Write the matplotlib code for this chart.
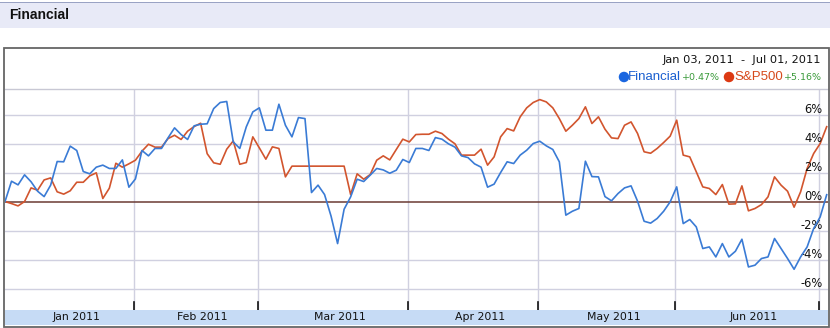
import matplotlib
matplotlib.use('Agg')
import matplotlib.pyplot as plt
from matplotlib.patches import Rectangle, Ellipse
import numpy as np

# % change since Jan 03, 2011, one value per trading day
financial = [0.00, 1.40, 1.15, 1.84, 1.36, 0.71, 0.34, 1.13, 2.76, 2.74,
             3.82, 3.52, 2.07, 1.91, 2.37, 2.51, 2.28, 2.28, 2.87, 0.99,
             1.56, 3.52, 3.15, 3.66, 3.66, 4.39, 5.08, 4.62, 4.28, 5.22,
             5.33, 5.36, 6.41, 6.83, 6.90, 4.11, 3.66, 5.15, 6.18, 6.46,
             4.92, 4.92, 6.71, 5.26, 4.46, 5.79, 5.72, 0.62, 1.13, 0.48,
             -1.01, -2.90, -0.53, 0.32, 1.54, 1.38, 1.82, 2.28, 2.18, 1.95,
             2.16, 2.90, 2.69, 3.66, 3.66, 3.52, 4.41, 4.30, 3.98, 3.75,
             3.15, 3.03, 2.60, 2.37, 0.99, 1.20, 2.00, 2.74, 2.62, 3.20,
             3.54, 4.00, 4.16, 3.84, 3.59, 2.74, -0.94, -0.67, -0.48, 2.78,
             1.72, 1.70, 0.34, 0.05, 0.55, 0.94, 1.08, 0.02, -1.36, -1.49,
             -1.17, -0.67, -0.02, 1.01, -1.52, -1.24, -1.75, -3.24, -3.13, -3.82,
             -2.90, -3.82, -3.43, -2.60, -4.51, -4.39, -3.93, -3.82, -2.55, -3.24,
             -3.93, -4.67, -3.82, -3.13, -1.86, -1.06, 0.47]

sp500 = [0.00, -0.14, -0.30, 0.00, 0.94, 0.78, 1.49, 1.63, 0.67, 0.51,
         0.74, 1.33, 1.33, 1.77, 1.98, 0.21, 0.92, 2.64, 2.37, 2.60,
         2.85, 3.47, 3.95, 3.75, 3.75, 4.34, 4.57, 4.28, 4.85, 5.17,
         5.40, 3.30, 2.67, 2.57, 3.61, 4.18, 2.57, 2.69, 4.46, 3.70,
         2.92, 3.77, 3.66, 1.70, 2.44, 2.44, 2.44, 2.44, 2.44, 2.44,
         2.44, 2.44, 2.44, 0.48, 1.91, 1.54, 1.86, 2.85, 3.15, 2.87,
         3.59, 4.30, 4.11, 4.62, 4.64, 4.64, 4.85, 4.69, 4.30, 3.98,
         3.20, 3.20, 3.20, 3.61, 2.51, 3.08, 4.46, 5.03, 4.87, 5.84,
         6.46, 6.83, 7.03, 6.87, 6.46, 5.72, 4.85, 5.26, 5.72, 6.53,
         5.38, 5.84, 4.99, 4.39, 4.34, 5.26, 5.49, 4.69, 3.43, 3.33,
         3.66, 4.07, 4.51, 5.61, 3.20, 3.08, 2.05, 1.01, 0.90, 0.48,
         1.17, -0.18, -0.16, 1.08, -0.64, -0.48, -0.21, 0.32, 1.70, 1.13,
         0.71, -0.39, 0.67, 2.28, 3.31, 4.00, 5.16]

month_bounds = [19.8, 38.8, 61.8, 81.8, 102.8, 124.8]
month_labels = ['Jan 2011', 'Feb 2011', 'Mar 2011', 'Apr 2011', 'May 2011', 'Jun 2011']
y_ticks = [6, 4, 2, 0, -2, -4, -6]
fin_change = '+0.47%'
sp_change = '+5.16%'
date_range = 'Jan 03, 2011  -  Jul 01, 2011'

W, H = 830, 328
BLUE = '#3a7bd5'
RED = '#d2552e'
GREEN = '#3a9a3a'


def fx(x):
    return x / W


def fy(y):
    return 1 - y / H


fig = plt.figure(figsize=(W / 100, H / 100), dpi=100)
fig.patch.set_facecolor('white')

# header band
fig.patches.append(Rectangle((fx(0), fy(28)), 1, 25 / H, transform=fig.transFigure,
                             facecolor='#e8eaf7', edgecolor='none', zorder=0))
fig.patches.append(Rectangle((fx(0), fy(3)), 1, 1.2 / H, transform=fig.transFigure,
                             facecolor='#9aa3c4', edgecolor='none', zorder=1))
fig.text(fx(9), fy(15), 'Financial', fontsize=10, fontweight='bold',
         family='Liberation Sans', va='center', ha='left', color='#111111')

# outer frame of chart
fig.patches.append(Rectangle((fx(3.5), fy(327)), 825 / W, 279 / H, transform=fig.transFigure,
                             facecolor='none', edgecolor='#666666', lw=1.3, zorder=5))

# date range + legend
fig.text(fx(821), fy(60), date_range, fontsize=8.2, ha='right', va='center',
         family='DejaVu Sans', color='#111111')
fig.text(fx(822), fy(77.5), sp_change, fontsize=6.8, ha='right', va='center',
         family='DejaVu Sans', color=GREEN)
fig.text(fx(783), fy(77), 'S&P500', fontsize=9.5, ha='right', va='center',
         family='Liberation Sans', color='#d64a1c')
fig.patches.append(Ellipse((fx(729), fy(77)), 10.5 / W, 10.5 / H, transform=fig.transFigure,
                           facecolor='#dc3912', edgecolor='none'))
fig.text(fx(720), fy(77.5), fin_change, fontsize=6.8, ha='right', va='center',
         family='DejaVu Sans', color=GREEN)
fig.text(fx(681), fy(77), 'Financial', fontsize=9.5, ha='right', va='center',
         family='Liberation Sans', color='#1a5fd0')
fig.patches.append(Ellipse((fx(624), fy(77)), 10.5 / W, 10.5 / H, transform=fig.transFigure,
                           facecolor='#1a66e0', edgecolor='none'))

# plot area
ax = fig.add_axes([fx(5), fy(310), (828 - 5) / W, (310 - 89) / H])
ax.set_xlim(0, 126.2)
ax.set_ylim(-7.48, 7.76)
for y in y_ticks:
    if y != 0:
        ax.axhline(y, color='#d0d0e0', lw=1, zorder=1)
for xb in month_bounds:
    ax.axvline(xb, color='#d0d0e0', lw=1, zorder=1)
ax.axhline(0, color='#6b3b33', lw=1.1, zorder=2)

xs = np.arange(len(financial))
ax.plot(xs, sp500, color=RED, lw=1.2, zorder=3)
ax.plot(xs, financial, color=BLUE, lw=1.2, zorder=4)

for y in y_ticks:
    ax.text(125.4, y + 0.35, f'{y}%', ha='right', va='center', fontsize=8.3,
            family='DejaVu Sans', color='#111111')

ax.set_xticks([])
ax.set_yticks([])
for s in ['left', 'right', 'bottom']:
    ax.spines[s].set_visible(False)
ax.spines['top'].set_color('#c8c8d4')
ax.spines['top'].set_linewidth(1)

# tick marks at month boundaries
for xb in month_bounds:
    ax.plot([xb, xb], [-7.48, -6.95], color='#111111', lw=1.2, zorder=5, clip_on=False)

# bottom axis band
bax = fig.add_axes([fx(5), fy(325), (828 - 5) / W, 15 / H])
bax.set_xlim(0, 126.2)
bax.set_ylim(0, 1)
bax.set_facecolor('#c6dbf5')
bax.set_xticks([])
bax.set_yticks([])
for s in bax.spines.values():
    s.set_visible(False)
edges = [0] + month_bounds
for i, lab in enumerate(month_labels):
    center = (edges[i] + edges[i + 1]) / 2 + 1
    bax.text(center, 0.5, lab, ha='center', va='center', fontsize=7.8,
             family='DejaVu Sans', color='#111111')

fig.savefig('out.png', dpi=100)
